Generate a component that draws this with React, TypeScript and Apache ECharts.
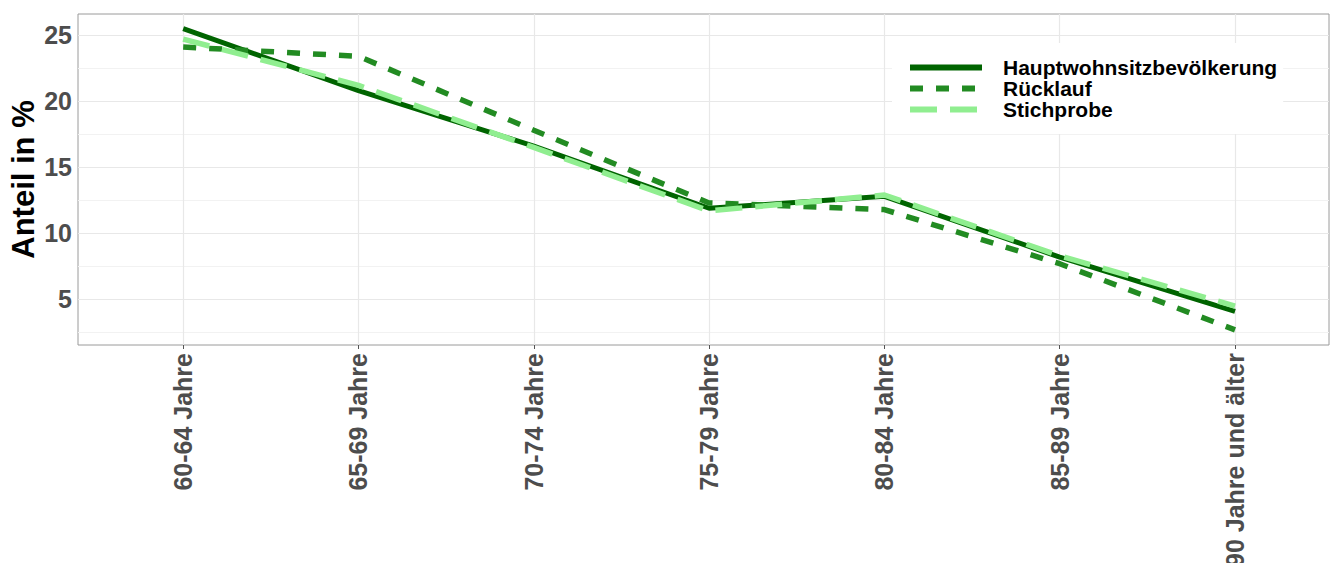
import React, { useEffect, useRef } from "react";
import * as echarts from "echarts";

const categories = ["60-64 Jahre", "65-69 Jahre", "70-74 Jahre", "75-79 Jahre", "80-84 Jahre", "85-89 Jahre", "90 Jahre und älter"];
const hauptwohnsitz = [25.5, 20.8, 16.6, 11.9, 12.8, 8.2, 4.1];
const ruecklauf = [24.1, 23.4, 17.8, 12.3, 11.8, 7.7, 2.7];
const stichprobe = [24.7, 21.2, 16.5, 11.7, 12.9, 8.3, 4.5];
const yTicks = [5, 10, 15, 20, 25];
const yMinor = [2.5, 7.5, 12.5, 17.5, 22.5];

const FONT = "'Liberation Sans', Arial, sans-serif";

export default function App() {
  const ref = useRef<HTMLDivElement>(null);
  useEffect(() => {
    if (!ref.current) return;
    const chart = echarts.init(ref.current, undefined, { renderer: "svg" });
    const idx = categories.map((_, i) => i);
    const toPts = (arr: number[]) => arr.map((v, i) => [i, v]);
    const gridMarks = [
      ...yMinor.map((v) => ({ yAxis: v, lineStyle: { color: "#f2f2f2", width: 1, type: "solid" } })),
      ...yTicks.map((v) => ({ yAxis: v, lineStyle: { color: "#e8e8e8", width: 1.2, type: "solid" } })),
      ...idx.map((v) => ({ xAxis: v, lineStyle: { color: "#e8e8e8", width: 1.2, type: "solid" } })),
    ];
    const hiddenSym = { opacity: 0, borderWidth: 0 };
    chart.setOption({
      animation: false,
      textStyle: { fontFamily: FONT },
      grid: {
        left: 78,
        top: 14,
        width: 1251,
        height: 331,
        outerBoundsMode: "none",
        containLabel: false,
        show: true,
        borderColor: "#9a9a9a",
        borderWidth: 1,
        backgroundColor: "transparent",
      },
      legend: {
        orient: "vertical",
        left: 892,
        top: 43,
        z: 20,
        padding: [14, 6, 14, 15],
        backgroundColor: "#ffffff",
        itemWidth: 72,
        itemHeight: 19,
        itemGap: 0,
        textStyle: {
          fontFamily: FONT,
          fontSize: 21,
          lineHeight: 19,
          fontWeight: "bold",
          color: "#000000",
          padding: [0, 0, 0, 16],
        },
        data: [
          { name: "Hauptwohnsitzbevölkerung", itemStyle: hiddenSym, lineStyle: { width: 6, color: "#006400", type: "solid" } },
          { name: "Rücklauf", itemStyle: hiddenSym, lineStyle: { width: 6, color: "#228B22", type: [13, 13] } },
          { name: "Stichprobe", itemStyle: hiddenSym, lineStyle: { width: 6, color: "#90EE90", type: [27, 13] } },
        ],
      },
      xAxis: {
        type: "value",
        min: -0.6,
        max: 6.536,
        axisLine: { show: false },
        splitLine: { show: false },
        axisTick: { show: true, length: 4, customValues: idx, lineStyle: { color: "#555" } },
        axisLabel: {
          customValues: idx,
          formatter: (v: number) => categories[Math.round(v)] ?? "",
          rotate: 90,
          margin: 8,
          fontSize: 25,
          fontWeight: "bold",
          color: "#4d4d4d",
          fontFamily: FONT,
        },
      },
      yAxis: {
        type: "value",
        min: 1.55,
        max: 26.6,
        name: "Anteil in %",
        nameLocation: "middle",
        nameGap: 39,
        nameMoveOverlap: false,
        nameTextStyle: { fontSize: 31, fontWeight: "bold", color: "#000000", fontFamily: FONT },
        axisLine: { show: false },
        splitLine: { show: false },
        axisTick: { show: true, length: 3, customValues: yTicks, lineStyle: { color: "#555" } },
        axisLabel: {
          customValues: yTicks,
          margin: 6,
          fontSize: 25,
          fontWeight: "bold",
          color: "#4d4d4d",
          fontFamily: FONT,
        },
      },
      series: [
        {
          name: "gridlines",
          type: "line",
          data: [],
          z: 0,
          silent: true,
          markLine: {
            silent: true,
            z: 1,
            symbol: ["none", "none"],
            label: { show: false },
            emphasis: { disabled: true },
            data: gridMarks,
          },
        },
        {
          name: "Hauptwohnsitzbevölkerung",
          type: "line",
          data: toPts(hauptwohnsitz),
          symbol: "none",
          z: 3,
          lineStyle: { color: "#006400", width: 5, type: "solid" },
          itemStyle: { color: "#006400" },
        },
        {
          name: "Rücklauf",
          type: "line",
          data: toPts(ruecklauf),
          symbol: "none",
          z: 4,
          lineStyle: { color: "#228B22", width: 5.5, type: [13, 13], cap: "butt" },
          itemStyle: { color: "#228B22" },
        },
        {
          name: "Stichprobe",
          type: "line",
          data: toPts(stichprobe),
          symbol: "none",
          z: 5,
          lineStyle: { color: "#90EE90", width: 5.5, type: [27, 13], cap: "butt" },
          itemStyle: { color: "#90EE90" },
        },
      ],
    });
    return () => chart.dispose();
  }, []);
  return <div ref={ref} style={{ width: 1330, height: 563, position: "absolute", left: 0, top: 0 }} />;
}
